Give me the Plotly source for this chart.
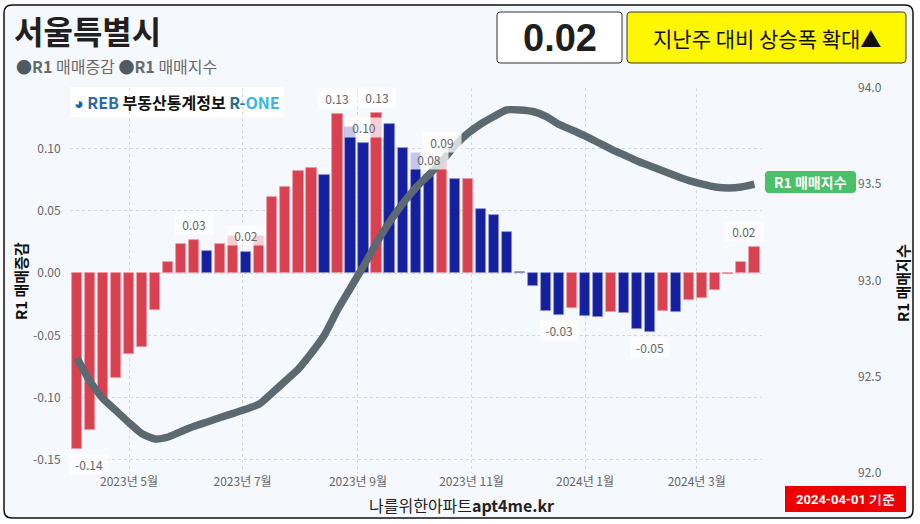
import plotly.graph_objects as go
import pandas as pd

# ---------------- data ----------------
week_start = "2023-04-03"
n_weeks = 53
weeks = pd.date_range(week_start, periods=n_weeks, freq="7D")

change = [-0.141, -0.126, -0.100, -0.084, -0.065, -0.059, -0.030, 0.0085, 0.0235, 0.0262,
          0.018, 0.0233, 0.0295, 0.017, 0.0295, 0.0610, 0.0693, 0.0818, 0.0845, 0.0790,
          0.1275, 0.117, 0.1043, 0.1281, 0.1196, 0.1006, 0.0963, 0.0784, 0.092, 0.0751,
          0.0754, 0.0511, 0.0469, 0.0329, 0.0008, -0.0107, -0.0308, -0.0335, -0.0278, -0.0343,
          -0.0353, -0.0316, -0.0321, -0.045, -0.0471, -0.0308, -0.0313, -0.0214, -0.0201, -0.0134,
          -0.0008, 0.0088, 0.0206]

index = [92.597, 92.478, 92.387, 92.324, 92.261, 92.204, 92.177, 92.187, 92.216, 92.243,
         92.265, 92.288, 92.310, 92.332, 92.358, 92.417, 92.478, 92.540, 92.623, 92.717,
         92.847, 92.961, 93.075, 93.195, 93.304, 93.399, 93.481, 93.548, 93.618, 93.699,
         93.764, 93.813, 93.852, 93.886, 93.886, 93.878, 93.852, 93.811, 93.782, 93.751,
         93.717, 93.683, 93.652, 93.621, 93.595, 93.569, 93.543, 93.519, 93.501, 93.486,
         93.481, 93.486, 93.501]

labeled_weeks = [0, 9, 13, 20, 22, 23, 27, 28, 37, 44, 52]

left_ticks = [-0.15, -0.10, -0.05, 0.00, 0.05, 0.10]
right_ticks = [92.0, 92.5, 93.0, 93.5, 94.0]

title_text = "서울특별시"
latest_value = "0.02"
status_text = "지난주 대비 상승폭 확대▲"
date_text = "2024-04-01 기준"
source_text = "나를위한아파트<b>apt4me.kr</b>"

# ---------------- layout geometry ----------------
W, H = 920, 524
ML, MR, MT, MB = 70, 55, 88, 51
PW = W - ML - MR
PH = H - MT - MB


def fx(px):
    return (px - ML) / PW


def fy(py):
    return (H - MB - py) / PH


def rrect(x0, y0, x1, y1, r):
    def P(x, y):
        return f"{fx(x):.5f},{fy(y):.5f}"
    d = (f"M {P(x0 + r, y0)} L {P(x1 - r, y0)} Q {P(x1, y0)} {P(x1, y0 + r)} "
         f"L {P(x1, y1 - r)} Q {P(x1, y1)} {P(x1 - r, y1)} "
         f"L {P(x0 + r, y1)} Q {P(x0, y1)} {P(x0, y1 - r)} "
         f"L {P(x0, y0 + r)} Q {P(x0, y0)} {P(x0 + r, y0)} Z")
    return d


RED = "#d8414f"
BLUE = "#14209e"
RED_EDGE = "rgba(240,150,160,0.9)"
BLUE_EDGE = "rgba(150,150,210,0.9)"

colors, edges = [], []
for i, v in enumerate(change):
    up = True if i == 0 else v > change[i - 1]
    colors.append(RED if up else BLUE)
    edges.append(RED_EDGE if up else BLUE_EDGE)

KR = "Noto Sans CJK KR"

fig = go.Figure()
fig.add_trace(go.Bar(
    x=weeks, y=change, marker=dict(color=colors, line=dict(color=edges, width=0.8)),
    width=5.5 * 86400000, yaxis="y", showlegend=False, hoverinfo="skip",
))
fig.add_trace(go.Scatter(
    x=weeks, y=index, mode="lines", yaxis="y2",
    line=dict(color="#5d6971", width=7.5, shape="spline", smoothing=0.6),
    showlegend=False, hoverinfo="skip",
))

x_right_px = 762
fig.update_layout(
    width=W, height=H,
    margin=dict(l=ML, r=MR, t=MT, b=MB),
    paper_bgcolor="white",
    plot_bgcolor="rgba(0,0,0,0)",
    font=dict(family=KR, color="#666666", size=12),
    bargap=0,
    xaxis=dict(
        domain=[0, fx(x_right_px)],
        range=["2023-03-30 07:00", "2024-04-05 02:00"],
        type="date",
        tick0="2023-05-01", dtick="M2", tickformat="%Y년 %-m월",
        showgrid=True, gridcolor="#d5d9de", griddash="dot", gridwidth=1,
        zeroline=False, showline=False, ticks="",
        tickfont=dict(size=12, color="#666666", family=KR),
    ),
    yaxis=dict(
        range=[-0.1605, 0.1485],
        tickvals=left_ticks, ticktext=[f"{t:.2f}" for t in left_ticks],
        showgrid=True, gridcolor="#d5d9de", griddash="dot", gridwidth=1,
        zeroline=False, showline=False,
        ticks="outside", ticklen=6, tickcolor="rgba(0,0,0,0)",
        tickfont=dict(size=12, color="#666666", family=KR),
    ),
    yaxis2=dict(
        overlaying="y", side="right", anchor="free", position=fx(857),
        range=[92.0, 94.0],
        tickvals=right_ticks, ticktext=[f"{t:.1f}" for t in right_ticks],
        showgrid=False, zeroline=False, showline=False, ticks="",
        tickfont=dict(size=12, color="#666666", family=KR),
    ),
)

shapes = []
shapes.append(dict(type="path", xref="paper", yref="paper", path=rrect(4, 5, 913, 518, 8),
                   fillcolor="#f5f8fc", line=dict(color="#111111", width=1.5), layer="below"))
shapes.append(dict(type="rect", xref="paper", yref="paper", x0=fx(70), x1=fx(284), y0=fy(117), y1=fy(87),
                   fillcolor="white", line=dict(width=0), layer="below"))
shapes.append(dict(type="path", xref="paper", yref="paper", path=rrect(497, 12, 622, 63, 3),
                   fillcolor="white", line=dict(color="#333333", width=1)))
shapes.append(dict(type="path", xref="paper", yref="paper", path=rrect(627, 12, 906, 63, 4),
                   fillcolor="#fff700", line=dict(color="#333333", width=1)))
shapes.append(dict(type="path", xref="paper", yref="paper", path=rrect(765, 171, 856, 193, 4),
                   fillcolor="#4cc068", line=dict(width=0)))
shapes.append(dict(type="rect", xref="paper", yref="paper", x0=fx(785), x1=fx(906), y0=fy(512), y1=fy(486),
                   fillcolor="#ee0000", line=dict(width=0)))
fig.update_layout(shapes=shapes)

ann = []


def txt(x, y, text, size, color, xanchor="center", family=KR, angle=0, **kw):
    ann.append(dict(xref="paper", yref="paper", x=fx(x), y=fy(y), text=text, showarrow=False,
                    xanchor=xanchor, yanchor="middle", textangle=angle,
                    font=dict(size=size, color=color, family=family), **kw))


txt(12, 30, f"<b>{title_text}</b>", 32, "#231f20", xanchor="left")
txt(14, 66, "<span style='color:#505a62'>●</span><b>R1</b> 매매증감 "
            "<span style='color:#505a62'>●</span><b>R1</b> 매매지수", 16, "#6a6a6a", xanchor="left")
txt(177, 102, "<span style='color:#1b64ad'>◕</span> <b><span style='color:#2a6ab0'>REB</span> "
              "<span style='color:#111'>부동산통계정보</span> "
              "<span style='color:#1f6f92'>R-</span><span style='color:#35b8e2'>ONE</span></b>", 16, "#111")
txt(559.5, 38, f"<b>{latest_value}</b>", 38, "#1e1e1e", family="Liberation Sans")
txt(766.5, 38, status_text, 21, "#111111")
txt(810.5, 182, "<b>R1 매매지수</b>", 14, "white")
txt(845.5, 499, f"<b>{date_text}</b>", 13, "white", family="Roboto")
txt(461, 505, source_text, 16, "#222222")
txt(20, 281, "<b>R1 매매증감</b>", 15, "#111111", angle=-90)
txt(902, 283, "<b>R1 매매지수</b>", 15, "#111111", angle=-90)

for i in labeled_weeks:
    v = change[i]
    xs = 0
    if i == 0:
        xs = 12
    if i == n_weeks - 1:
        xs = -10
    ann.append(dict(xref="x", yref="y", x=weeks[i], y=v, text=f"{v:.2f}", showarrow=False,
                    xanchor="center", yanchor="middle", yshift=16 if v >= 0 else -16, xshift=xs,
                    font=dict(size=12, color="#666666", family=KR),
                    bgcolor="rgba(255,255,255,0.75)", width=38, height=19, borderpad=0))

fig.update_layout(annotations=ann)

fig.write_html("out.html")
